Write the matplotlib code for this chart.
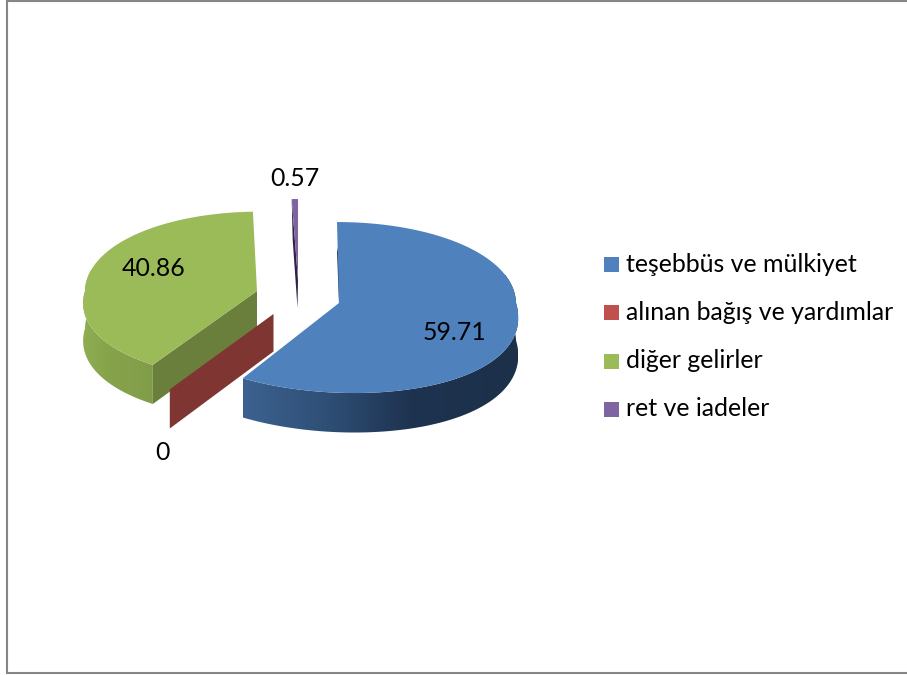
import matplotlib
matplotlib.use('Agg')
import matplotlib.pyplot as plt
from matplotlib.patches import Polygon, Rectangle
from matplotlib.colors import LinearSegmentedColormap
import numpy as np

# chart values
categories = ['teşebbüs ve mülkiyet', 'alınan bağış ve yardımlar', 'diğer gelirler', 'ret ve iadeler']
values = [59.71, 0, 40.86, 0.57]
value_labels = ['59.71', '0', '40.86', '0.57']

# styles, one entry per slice
top_colors = ['#4f81bd', '#c0504d', '#9bbb59', '#8064a2']
cut_colors = ['#1d3250', '#7f3532', '#6a7f3b', '#2e2342']
centers = [(339, 303), (273.5, 314), (257, 291), (298, 280)]
radius_x = [177, 178, 172, 178]
radius_y = [85.5, 85.5, 83.8, 85.5]
shear_back = [2, 0, -2, 0]
shear_front = [15.5, 5.8, 0, 0]
label_pos = [(454, 332), (162, 452), (154, 268), (295, 178)]

PERSP = 0.053
PERSP_X = 0.15
DEPTH = 37.5
FONT = 'Lato'
FONT_SIZE = 17.9


def project(idx, angle, r=1.0):
    # angle in degrees, clockwise from the top of the pie
    u = r * np.sin(np.radians(angle))
    v = -r * np.cos(np.radians(angle))
    cx, cy = centers[idx]
    # the near half of the pie spreads out, the far half stays plain
    front = np.clip(v, 0, None)
    back = np.clip(v, None, 0)
    x = cx + radius_x[idx] * u * (1 + PERSP_X * front) + shear_front[idx] * front ** 2 + shear_back[idx] * back
    y = cy + radius_y[idx] * v * (1 + PERSP * v)
    return x, y, v


def draw_side(ax, idx, start, end, cmap, x0, x1, z):
    # outer wall of a slice, a horizontal gradient clipped to the wall shape
    angles = np.linspace(start, end, 120)
    xs, ys, vs = project(idx, angles)
    low = ys + DEPTH * (1 + PERSP * vs)
    pts = list(zip(xs, ys)) + list(zip(xs[::-1], low[::-1]))
    poly = Polygon(pts, closed=True, fc='none', ec='none', transform=ax.transData)
    ax.add_patch(poly)
    grad = np.linspace(0, 1, 256).reshape(1, -1)
    im = ax.imshow(grad, cmap=cmap, extent=(x0, x1, low.max() + 2, ys.min() - 2),
                   aspect='auto', zorder=z, interpolation='bilinear')
    im.set_clip_path(poly)


def draw_top(ax, idx, start, end, z):
    angles = np.linspace(start, end, 120)
    xs, ys, vs = project(idx, angles)
    pts = [centers[idx]] + list(zip(xs, ys))
    ax.add_patch(Polygon(pts, closed=True, fc=top_colors[idx], ec='none', zorder=z))


fig = plt.figure(figsize=(9.07, 6.75), dpi=100)
ax = fig.add_axes([0, 0, 1, 1])
ax.axis('off')

# chart frame, its right side falls off the picture
ax.add_patch(Rectangle((6.5, 0.5), 950, 672, fc='white', ec='#868686', lw=1.5, zorder=0))

total = float(sum(values))
ends = np.cumsum(values) / total * 360
starts = np.concatenate([[0], ends[:-1]])

green_wall = LinearSegmentedColormap.from_list('green_wall', ['#90af55', '#86a44a', '#84a04a', '#7f9c48'])
blue_wall = LinearSegmentedColormap.from_list(
    'blue_wall', [(0, '#3c6290'), (0.3, '#2f4f76'), (0.61, '#1e3350'), (1, '#1c3049')])

# green slice: outer wall, cut face, top
draw_side(ax, 2, starts[2], 285, green_wall, 80, 160, 2)
gx, gy, gv = project(2, starts[2])
cx, cy = centers[2]
ax.add_patch(Polygon([(cx, cy), (gx, gy), (gx, gy + DEPTH * (1 + PERSP * gv)), (cx, cy + DEPTH)],
                     closed=True, fc=cut_colors[2], ec='none', zorder=3))
draw_top(ax, 2, starts[2], ends[2], 4)

# zero slice is only a flat cut plane
rx, ry, rv = project(1, starts[1])
cx, cy = centers[1]
ax.add_patch(Polygon([(cx, cy), (rx, ry), (rx, ry + DEPTH * (1 + PERSP * rv)), (cx, cy + DEPTH)],
                     closed=True, fc=cut_colors[1], ec='none', zorder=5))

# blue slice
draw_side(ax, 0, 70, ends[0], blue_wall, 243, 518, 6)
bx, by, bv = project(0, 0)
cx, cy = centers[0]
ax.add_patch(Polygon([(cx, cy), (bx, by + 30), (cx, cy - 60)],
                     closed=True, fc=cut_colors[0], ec='none', zorder=6))
draw_top(ax, 0, starts[0], ends[0], 7)

# purple sliver, its dark cut face shows on the left
px, py, pv = project(3, starts[3])
cx, cy = centers[3]
ax.add_patch(Polygon([(px, py), (px + 1, py + 41), (cx - 0.5, cy + 28), (cx, cy)],
                     closed=True, fc=cut_colors[3], ec='none', zorder=8))
draw_top(ax, 3, starts[3], ends[3], 9)

for txt, (x, y) in zip(value_labels, label_pos):
    ax.text(x, y, txt, ha='center', va='center', fontsize=FONT_SIZE, family=FONT, color='black', zorder=10)

# legend
legend_y = [264.5, 312.5, 361, 409]
for name, col, y in zip(categories, top_colors, legend_y):
    ax.add_patch(Rectangle((604, y - 7.5), 15, 15, fc=col, ec='none', zorder=10))
    ax.text(626, y, name, ha='left', va='center', fontsize=FONT_SIZE, family=FONT, color='black', zorder=10)

ax.set_xlim(0, 907)
ax.set_ylim(675, 0)
fig.savefig('out.png', dpi=100)
